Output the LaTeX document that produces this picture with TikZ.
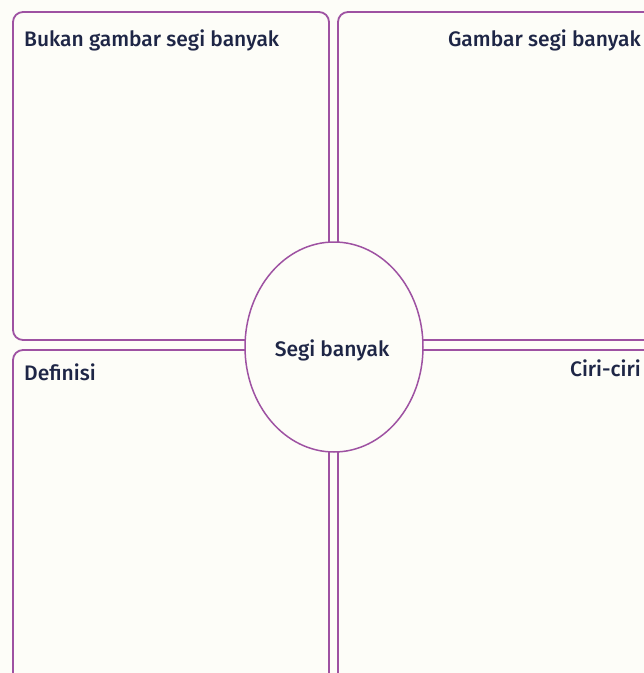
\documentclass[tikz,border=0pt]{standalone}
\usepackage{fontspec}
\setmainfont{Fira Sans}[UprightFont=* Medium]
\usetikzlibrary{shapes.geometric}
\definecolor{bg}{RGB}{253,253,248}
\definecolor{lila}{RGB}{158,82,162}
\definecolor{ink}{RGB}{30,38,70}
\tikzset{
  panel/.style={draw=lila, line width=1.8pt, rounded corners=10pt},
  lab/.style={font=\fontsize{21}{24}\selectfont, text=ink, inner sep=0pt},
  hub/.style={ellipse, draw=lila, line width=1.5pt, fill=bg, minimum width=178pt, minimum height=210pt, inner sep=0pt}
}
\begin{document}
\begin{tikzpicture}[x=1pt,y=-1pt]
\useasboundingbox (0,0) rectangle (644,673);
\fill[bg] (0,0) rectangle (644,673);
\draw[panel] (13,12) rectangle (329,340);
\draw[panel] (338,12) rectangle (660,340);
\draw[panel] (13,350) rectangle (329,690);
\draw[panel] (338,350) rectangle (660,690);
\node[hub] (c) at (334,347) {};
\node[lab] (hc) at (332,350) {Segi banyak};
\node[lab, anchor=west] (tl) at (24,40) {Bukan gambar segi banyak};
\node[lab, anchor=east] (tr) at (641,40) {Gambar segi banyak};
\node[lab, anchor=west] (bl) at (24,372) {Definisi};
\node[lab, anchor=east] (br) at (641,368) {Ciri-ciri};
\end{tikzpicture}
\end{document}
